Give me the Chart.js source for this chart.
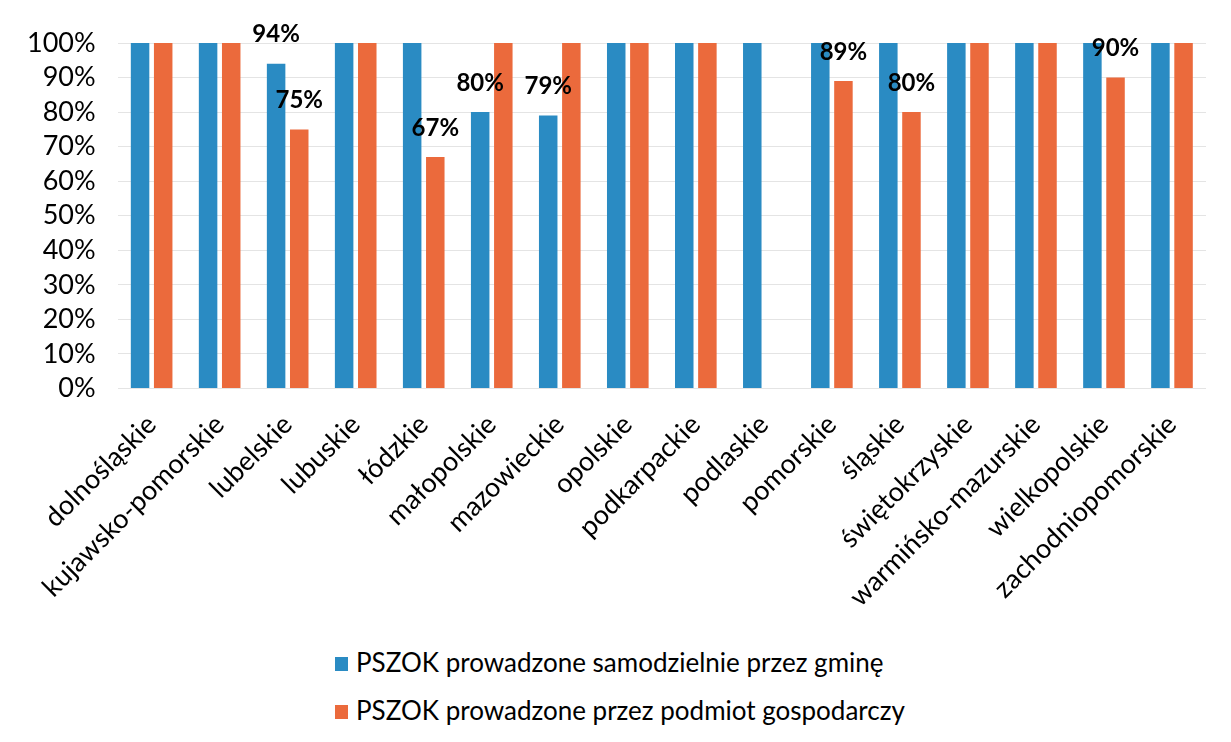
<!DOCTYPE html>
<html lang="pl">
<head>
<meta charset="utf-8">
<title>PSZOK</title>
<script src="https://cdn.jsdelivr.net/npm/chart.js@4/dist/chart.umd.min.js"></script>
<style>
    body { margin: 0; background: #fff; overflow: hidden; }
    #wrap { position: relative; width: 1231px; height: 625px; }
    #legenda { position: absolute; left: 335px; top: 646px; font-family: Lato, sans-serif; font-size: 26px; color: #000; }
    #legenda div { height: 48px; display: flex; align-items: flex-start; }
    #legenda span.kw { display: inline-block; width: 13px; height: 14px; margin: 11px 8px 0 0; }
</style>
</head>
<body>
<div id="wrap"><canvas id="wykres"></canvas></div>
<div id="legenda"></div>
<script>
const regiony = ['dolnośląskie', 'kujawsko-pomorskie', 'lubelskie', 'lubuskie', 'łódzkie', 'małopolskie',
    'mazowieckie', 'opolskie', 'podkarpackie', 'podlaskie', 'pomorskie', 'śląskie', 'świętokrzyskie',
    'warmińsko-mazurskie', 'wielkopolskie', 'zachodniopomorskie']
const samodzielnie = [100, 100, 94, 100, 100, 80, 79, 100, 100, 100, 100, 100, 100, 100, 100, 100]
const podmiot = [100, 100, 75, 100, 67, 100, 100, 100, 100, null, 89, 80, 100, 100, 90, 100]
const nazwySerii = ['PSZOK prowadzone samodzielnie przez gminę', 'PSZOK prowadzone przez podmiot gospodarczy']
const kolory = ['#2A8BC3', '#EB6A3C']
const osY = [0, 10, 20, 30, 40, 50, 60, 70, 80, 90, 100]

const czcionka = 'Lato, sans-serif'

// etykiety tylko dla wartosci ponizej 100%
const etykiety = {
    id: 'etykiety',
    afterDatasetsDraw(chart) {
        const ctx = chart.ctx
        ctx.save()
        ctx.font = 'bold 24px ' + czcionka
        ctx.fillStyle = '#000'
        ctx.textAlign = 'center'
        ctx.textBaseline = 'bottom'
        chart.data.datasets.forEach((ds, i) => {
            chart.getDatasetMeta(i).data.forEach((bar, j) => {
                let v = ds.data[j]
                if (v == null || v >= 100) return
                ctx.fillText(v + '%', bar.x, bar.y - 17)
            })
        })
        ctx.restore()
    }
}

const data = {
    labels: regiony,
    datasets: [
        { label: nazwySerii[0], data: samodzielnie, backgroundColor: kolory[0] },
        { label: nazwySerii[1], data: podmiot, backgroundColor: kolory[1] }
    ]
}

const config = {
    type: 'bar',
    data: data,
    options: {
        responsive: true,
        maintainAspectRatio: false,
        animation: false,
        layout: { padding: { top: 43, left: 5, right: 25, bottom: 0 } },
        datasets: { bar: { categoryPercentage: 0.68, barPercentage: 0.8 } },
        scales: {
            x: {
                grid: { display: false },
                border: { display: false },
                ticks: {
                    color: '#000', font: { family: czcionka, size: 27 },
                    minRotation: 45, maxRotation: 45, autoSkip: false, padding: 12
                }
            },
            y: {
                min: 0, max: 100,
                afterBuildTicks: (s) => { s.ticks = osY.map(v => ({ value: v })) },
                grid: { color: '#e4e4e4', drawTicks: false },
                border: { display: false },
                ticks: {
                    color: '#000', font: { family: czcionka, size: 27 }, padding: 22, autoSkip: false,
                    callback: v => v + '%'
                }
            }
        },
        plugins: {
            legend: { display: false },
            tooltip: { enabled: false }
        }
    },
    plugins: [etykiety]
}

new Chart(document.getElementById('wykres'), config)

let legenda = document.getElementById('legenda')
nazwySerii.forEach((n, i) => {
    legenda.innerHTML += `<div><span class="kw" style="background:${kolory[i]}"></span>${n}</div>`
})
</script>
</body>
</html>
